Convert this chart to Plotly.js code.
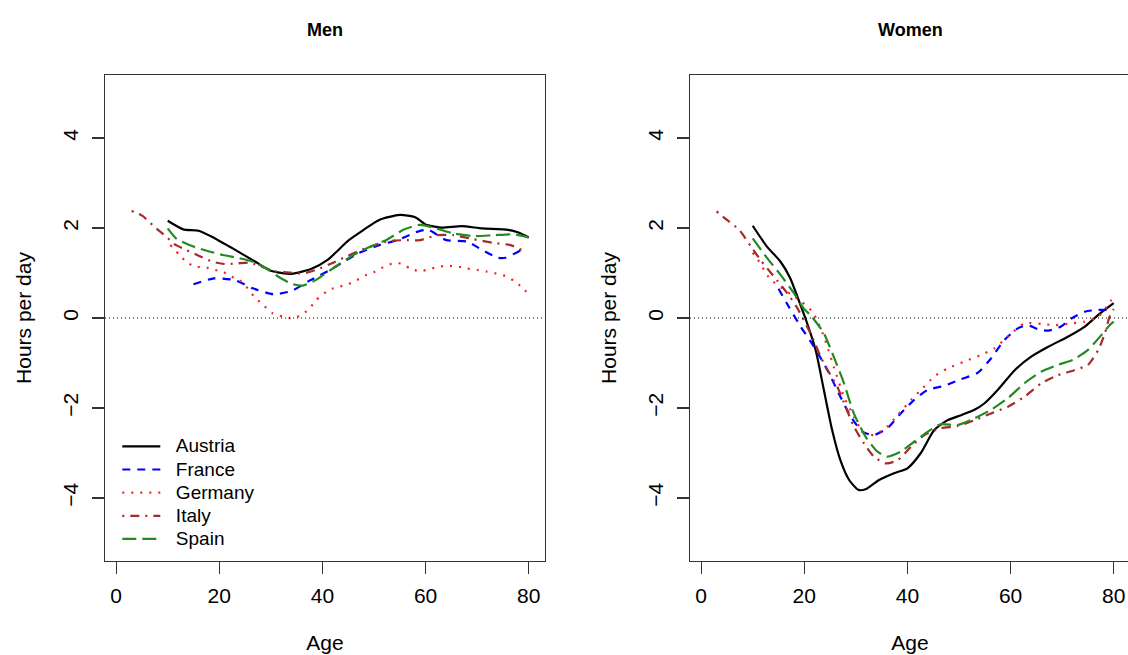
<!DOCTYPE html>
<html>
<head>
<meta charset="utf-8">
<script src="https://cdn.plot.ly/plotly-3.0.1.min.js"></script>
<style>
html, body { margin: 0; padding: 0; background: #fff; overflow: hidden; }
#chart { width: 1130px; height: 655px; }
</style>
</head>
<body>
<div id="chart"></div>
<script>
// ---------- data ----------
const countries = ['Austria', 'France', 'Germany', 'Italy', 'Spain'];
const xTicks = [0, 20, 40, 60, 80];
const yTicks = [-4, -2, 0, 2, 4];

// Men
const menAustriaAge = [10, 13, 16, 19, 23, 27, 30, 34, 38, 41, 43, 45, 48, 51, 55, 58, 60, 63, 67, 71, 76, 78, 80];
const menAustria    = [2.16, 1.97, 1.94, 1.78, 1.52, 1.25, 1.05, 0.98, 1.10, 1.29, 1.50, 1.72, 1.96, 2.18, 2.29, 2.24, 2.08, 2.01, 2.04, 1.99, 1.96, 1.90, 1.79];
const menFranceAge  = [15, 19, 23, 26.5, 30.5, 34, 37.5, 42, 44, 47, 51, 54.5, 58.5, 60.5, 64, 68, 71, 74, 75.5, 78.5, 79];
const menFrance     = [0.75, 0.88, 0.84, 0.66, 0.53, 0.60, 0.83, 1.10, 1.24, 1.44, 1.62, 1.73, 1.92, 1.96, 1.73, 1.70, 1.51, 1.34, 1.34, 1.51, 1.55];
const menGermanyAge = [10.5, 12.3, 13.6, 15.2, 17.1, 19.1, 20.7, 22.3, 23.9, 25.2, 26.8, 28.5, 30.4, 32.4, 34.2, 35.9, 37.5, 38.8, 41.4, 43.4, 45, 46.6, 48.6, 50.2, 51.8, 53.6, 55.4, 57, 58.8, 60.6, 62.5, 64.5, 66.4, 68, 70, 71.9, 73.7, 75.5, 77.1, 78.7, 80];
const menGermany    = [1.62, 1.40, 1.25, 1.14, 1.13, 1.07, 1.03, 0.92, 0.84, 0.70, 0.47, 0.29, 0.10, 0.03, -0.01, 0.07, 0.21, 0.40, 0.63, 0.70, 0.75, 0.84, 0.96, 1.03, 1.13, 1.21, 1.21, 1.10, 1.04, 1.08, 1.14, 1.16, 1.14, 1.10, 1.07, 1.03, 0.99, 0.93, 0.83, 0.68, 0.53];
const menItalyAge   = [3, 5.1, 7.4, 9.7, 11.3, 13.6, 16.1, 18.7, 21, 23.3, 25.9, 28.5, 31.1, 33.7, 36.2, 38.8, 42.1, 43.4, 47.9, 52.5, 55.7, 58.9, 62.2, 65.4, 69.3, 73.2, 76.5, 78.7, 79.5];
const menItaly      = [2.38, 2.27, 2.03, 1.81, 1.64, 1.51, 1.38, 1.25, 1.20, 1.21, 1.23, 1.13, 1.03, 1.01, 0.99, 1.07, 1.23, 1.30, 1.53, 1.70, 1.73, 1.73, 1.84, 1.84, 1.75, 1.67, 1.62, 1.51, 1.50];
const menSpainAge   = [10, 11.6, 14.2, 17.4, 20.7, 23.9, 26.5, 29.1, 31.7, 34.3, 36.2, 38.5, 42, 46, 49, 52.5, 55.7, 58.9, 61.5, 65.4, 69.3, 73.2, 77.1, 80];
const menSpain      = [1.99, 1.77, 1.62, 1.50, 1.40, 1.33, 1.25, 1.10, 0.90, 0.75, 0.72, 0.83, 1.10, 1.40, 1.57, 1.74, 1.96, 2.07, 2.01, 1.88, 1.82, 1.84, 1.86, 1.79];

// Women
const womenAustriaAge = [10, 12.8, 15.4, 17.3, 18.9, 20.2, 22.2, 23.8, 25.4, 27, 28.7, 30.5, 32, 34.5, 37.4, 40, 42.6, 45.2, 47.8, 50.4, 53, 54.9, 57.5, 60.8, 64, 67.3, 71.2, 74.4, 77, 80];
const womenAustria    = [2.05, 1.58, 1.25, 0.88, 0.40, 0.00, -0.71, -1.60, -2.49, -3.16, -3.60, -3.82, -3.80, -3.60, -3.45, -3.34, -3.00, -2.49, -2.27, -2.16, -2.04, -1.90, -1.60, -1.16, -0.86, -0.64, -0.41, -0.19, 0.07, 0.33];
const womenFranceAge  = [15, 17, 19.3, 21.9, 24.5, 27, 29, 31.3, 33.5, 36.1, 38.7, 41.3, 43.9, 47.1, 50.4, 53.6, 56.2, 58.8, 61.4, 63.4, 65.3, 67.3, 69.8, 71.8, 74.4, 77, 79];
const womenFrance     = [0.65, 0.25, -0.19, -0.64, -1.16, -1.75, -2.19, -2.53, -2.60, -2.45, -2.12, -1.82, -1.60, -1.51, -1.36, -1.22, -0.90, -0.49, -0.23, -0.16, -0.25, -0.28, -0.19, -0.01, 0.14, 0.18, 0.18];
const womenGermanyAge = [10, 11, 12.3, 13.5, 15.5, 17.5, 19.5, 21.7, 23.8, 25.7, 27.7, 29.6, 31.6, 33.5, 36.1, 38.1, 40.7, 42.6, 45.2, 47.8, 51, 54.3, 56.9, 59.5, 62.7, 66, 68.5, 71.1, 74.4, 77, 79, 80];
const womenGermany    = [1.45, 1.30, 1.05, 0.85, 0.68, 0.52, 0.36, 0.12, -0.41, -1.08, -1.75, -2.19, -2.56, -2.60, -2.41, -2.16, -1.82, -1.60, -1.30, -1.12, -0.97, -0.82, -0.67, -0.41, -0.12, -0.13, -0.16, -0.13, -0.08, 0.03, 0.30, 0.50];
const womenItalyAge   = [3, 5, 7.3, 9.9, 11.5, 14.7, 16.7, 18.5, 21.2, 23.8, 26.4, 28, 29.6, 31.6, 33.5, 35.8, 38.1, 40.7, 43.3, 46.5, 49.7, 53, 56.2, 59.5, 62.7, 66, 69.2, 72.4, 75, 77, 78.3, 79.2, 80];
const womenItaly      = [2.37, 2.18, 1.97, 1.55, 1.29, 0.84, 0.55, 0.25, -0.34, -1.01, -1.53, -1.97, -2.41, -2.79, -3.08, -3.23, -3.16, -2.86, -2.60, -2.45, -2.40, -2.27, -2.12, -1.97, -1.75, -1.45, -1.27, -1.16, -1.04, -0.71, -0.34, 0.03, 0.20];
const womenSpainAge   = [10, 12.8, 15.4, 18, 19.9, 21.3, 23.8, 25.7, 27.7, 29.6, 31.9, 34.2, 36.1, 38.7, 41.3, 43.9, 46.5, 49.7, 53, 56.2, 59.5, 62.7, 66, 69.2, 72.1, 75, 77.6, 79.2, 80];
const womenSpain      = [1.77, 1.33, 0.96, 0.55, 0.21, 0.05, -0.34, -0.86, -1.45, -2.12, -2.64, -2.97, -3.08, -2.97, -2.75, -2.53, -2.36, -2.38, -2.23, -2.04, -1.78, -1.45, -1.19, -1.04, -0.93, -0.71, -0.38, -0.16, -0.08];

// ---------- styles ----------
const styles = {
  Austria: {color: '#000000', dash: 'solid'},
  France:  {color: '#0000ff', dash: '8px,7px'},
  Germany: {color: '#ff2020', dash: '2px,7px'},
  Italy:   {color: '#a52a2a', dash: '2px,6px,9px,6px'},
  Spain:   {color: '#228b22', dash: '14px,6px'}
};

const menSeries = {
  Austria: [menAustriaAge, menAustria], France: [menFranceAge, menFrance],
  Germany: [menGermanyAge, menGermany], Italy: [menItalyAge, menItaly],
  Spain: [menSpainAge, menSpain]
};
const womenSeries = {
  Austria: [womenAustriaAge, womenAustria], France: [womenFranceAge, womenFrance],
  Germany: [womenGermanyAge, womenGermany], Italy: [womenItalyAge, womenItaly],
  Spain: [womenSpainAge, womenSpain]
};

const traces = [];
countries.forEach(c => {
  traces.push({
    x: menSeries[c][0], y: menSeries[c][1], xaxis: 'x', yaxis: 'y',
    type: 'scatter', mode: 'lines',
    name: '<span style="font-size:19px">\u00a0\u00a0' + c + '</span>',
    line: {color: styles[c].color, dash: styles[c].dash, width: 2.2, shape: 'spline', smoothing: 0.6},
    hoverinfo: 'x+y'
  });
});
countries.forEach(c => {
  traces.push({
    x: womenSeries[c][0], y: womenSeries[c][1], xaxis: 'x2', yaxis: 'y2',
    type: 'scatter', mode: 'lines', name: c, showlegend: false,
    line: {color: styles[c].color, dash: styles[c].dash, width: 2.2, shape: 'spline', smoothing: 0.6},
    hoverinfo: 'x+y'
  });
});

const FONT = 'Liberation Sans, Arial, Helvetica, sans-serif';
const axisX = (domain, rng) => ({
  domain: domain, range: rng, tickvals: xTicks, ticks: 'outside', ticklen: 12,
  tickwidth: 1.2, tickcolor: '#333', showline: true, mirror: true, linecolor: '#333', linewidth: 1.4,
  showgrid: false, zeroline: false, tickfont: {size: 21, family: FONT, color: '#000'},
  ticklabelstandoff: 3,
  title: {text: 'Age', font: {size: 21, family: FONT, color: '#000'}, standoff: 29}
});
const axisY = (anchor) => ({
  domain: [0, 1], range: [-5.4, 5.4], tickvals: yTicks, ticks: 'outside', ticklen: 12,
  tickwidth: 1.2, tickcolor: '#333', showline: true, mirror: true, linecolor: '#333', linewidth: 1.4,
  showgrid: false, zeroline: false, tickangle: -90, anchor: anchor, ticklabelstandoff: 5,
  tickfont: {size: 21, family: FONT, color: '#000'},
  title: {text: 'Hours per day', font: {size: 21, family: FONT, color: '#000'}, standoff: 22}
});

const W = 1025;
const layout = {
  width: 1130, height: 655,
  margin: {l: 105, r: 0, t: 75, b: 94, pad: 0},
  paper_bgcolor: '#fff', plot_bgcolor: '#fff',
  font: {family: FONT, color: '#000', size: 19},
  showlegend: true,
  legend: {x: 0.012, y: 0.27, xanchor: 'left', yanchor: 'top', bgcolor: 'rgba(0,0,0,0)',
           font: {size: 15.5, family: FONT, color: '#000'}, itemwidth: 38, tracegroupgap: 0},
  xaxis: Object.assign(axisX([0, 440 / W], [-2.16, 83.16]), {anchor: 'y'}),
  xaxis2: Object.assign(axisX([585 / W, 1], [-2.16, 83.16]), {anchor: 'y2'}),
  yaxis: axisY('x'),
  yaxis2: axisY('x2'),
  shapes: [
    {type: 'line', xref: 'x domain', yref: 'y', x0: 0, x1: 1, y0: 0, y1: 0, line: {color: '#000', width: 1, dash: '1px,3px'}},
    {type: 'line', xref: 'x2 domain', yref: 'y2', x0: 0, x1: 1, y0: 0, y1: 0, line: {color: '#000', width: 1, dash: '1px,3px'}}
  ],
  annotations: [
    {text: '<b>Men</b>', xref: 'x domain', yref: 'paper', x: 0.5, y: (561 - 30) / 486, xanchor: 'center', yanchor: 'middle', showarrow: false, font: {size: 18, family: FONT, color: '#000'}},
    {text: '<b>Women</b>', xref: 'x2 domain', yref: 'paper', x: 0.5, y: (561 - 30) / 486, xanchor: 'center', yanchor: 'middle', showarrow: false, font: {size: 18, family: FONT, color: '#000'}}
  ]
};

Plotly.newPlot('chart', traces, layout, {displayModeBar: false, staticPlot: true});
</script>
</body>
</html>
